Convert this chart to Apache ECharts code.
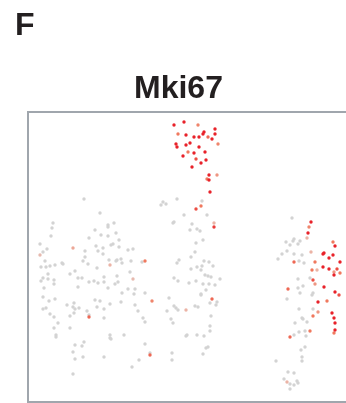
<!DOCTYPE html>
<html><head><meta charset="utf-8">
<script src="https://cdn.jsdelivr.net/npm/echarts@6/dist/echarts.min.js"></script>
<style>html,body{margin:0;padding:0;background:#fff;overflow:hidden}#c{width:362px;height:403px}</style>
</head><body><div id="c"></div>
<script>
// Panel label and gene title
var panelLabel = 'F';
var geneName = 'Mki67';
// Expression level legend: 0 = none (grey) ... 3 = high (red)
var exprLevels = [0, 1, 2, 3];
var exprColors = ['#d3d3d3', '#ebb3a5', '#f0795e', '#e8222a'];

// Each point: [dim1, dim2, expression]
var leftCluster = [
[56,203,0],[72,189,0],[25,179,0],[24,174,0],[23,166,0],[12,158,0],[19,153,0],[67,172,0],[80,177,0],[80,175,0],
[86,179,0],[61,164,0],[73,167,0],[80,166,0],[88,169,0],[91,162,0],[85,158,0],[83,157,0],[68,156,0],[91,155,0],
[75,154,0],[45,154,1.2],[100,152,0],[105,153,0],[70,151,0],[75,148,0],[57,151,0],[15,150,0],[12,147,0.8],[17,141,0],
[57,145,0],[55,141,0],[81,142,0],[89,142,0],[93,143,0],[94,139,0],[88,141,0],[69,134,0],[60,138,0],[82,137,1],
[103,141,0],[117,141,2],[114,140,0],[13,135,0],[18,135,0],[22,136,0],[27,137,0],[34,139,0],[35,138,0],[20,128,0],
[42,128,0],[47,131,0],[76,125,0],[89,126,0],[102,130,0],[50,124,0],[54,124,0],[13,121,0],[15,124,0],[20,123,0],
[26,122,0],[26,118,0],[61,120,0],[66,121,0],[70,119,0],[76,120,0],[90,120,0],[87,118,0],[105,123,0.8],[50,115,0],
[80,114,0],[100,113,0],[107,113,0],[16,114,0],[94,109,0],[106,108,0],[117,109,0],[15,105,0],[21,101,0],[27,103,0],
[67,102,0],[72,101,0],[93,100,0],[82,98,0],[124,101,1.8],[39,97,0],[46,99,0],[107,97,0],[69,95,0],[76,93,0],
[15,93,0],[18,94,0],[45,95,0],[47,93,0],[51,94,0],[59,91,0],[110,91,0],[46,89,0],[42,86,0],[22,88,0],
[26,85,0],[61,87,0],[61,85,2.2],[76,84,0],[115,84,0],[117,80,0],[30,79,0],[26,74,0],[42,74,0],[96,67,0],
[82,67,0],[82,64,0],[83,63,0],[28,67,0],[28,65,0],[56,60,0],[54,56,0],[47,57,0],[117,58,0],[45,50,0],
[122,49,0],[122,47,2.2],[47,43,0],[55,45,0],[76,45,0],[111,42,0],[104,35,0],[45,28,0]
];

var middleCluster = [
[133,197,0],[135,200,0],[138,198,0],[149,203,0],[156,187,0],[145,179,0],[146,180,0],[164,178,0],[169,173,0],[162,172,0],
[168,159,0],[174,201,0],[179,187,0],[172,171,0],[175,162,0],[167,150,0],[163,145,0],[176,141,0],[181,140,0],[174,136,0],
[169,135,0],[185,136,0],[163,133,0],[173,132,0],[177,127,0],[180,126,0],[183,125,0],[192,123,0],[168,121,0],[161,119,0],
[175,118,0],[181,118,0],[187,117,0],[178,112,0],[173,108,0],[173,107,0],[189,100,0],[188,97,0],[182,99,0],[167,96,0],
[170,95,0],[183,86,0],[182,76,0],[182,71,0],[159,67,0],[158,66,0],[169,67,0],[176,66,0],[178,54,0],[180,55,0],
[175,48,0],[151,142,0],[149,139,0],[146,124,0],[150,121,0],[141,104,0],[146,96,0],[139,91,0],[148,94,0],[150,92,0],
[143,83,0],[145,79,0],[144,49,0],[144,42,0],[158,92,1],[186,179,1],[168,193,2.5],[173,196,2],[186,175,2.7],[184,103,2.2],
[146,277,3],[156,280,3],[170,277,1.8],[150,268,2],[158,267,3],[166,265,3],[171,265,3],[176,270,3],[175,268,3],[187,273,3],
[187,268,3],[180,265,2.2],[184,263,3],[190,258,1.8],[148,258,3],[149,255,3],[158,257,3],[162,259,3],[171,255,3],[160,250,2],
[166,249,3],[177,250,3],[155,246,3],[168,243,2.5],[178,242,3],[173,239,3],[164,235,3],[181,227,3],[189,227,1.5],[179,223,2],
[181,222,3],[182,210,3]
];

var rightCluster = [
[264,184,0],[258,160,0],[262,157,0],[265,161,0],[266,163,0],[270,158,0],[272,161,0],[259,151,0],[254,148,0],[250,143,0],
[266,148,0],[274,147,0],[271,141,0],[276,139,0],[270,123,0],[282,124,0],[270,114,0],[275,116,0],[285,109,0],[284,107,0],
[272,109,0],[259,103,0],[285,93,0],[271,93,0],[274,84,0],[275,83,0],[279,80,0],[267,79,0],[277,71,0],[271,70,0],
[278,66,0],[266,67,0],[277,55,0],[273,52,0],[274,45,0],[274,41,0],[248,41,0],[260,30,0],[266,29,0],[256,23,0],
[269,21,0],[262,18,0],[270,19,0],[266,17,0],[262,13,0],[259,20,1],[279,164,1],[283,150,1],[289,132,1],[281,175,1.8],
[283,180,3],[280,169,3],[305,160,2],[307,156,3],[296,149,3],[295,148,3],[305,147,3],[301,144,3],[312,140,3],[287,140,2],
[266,140,2.2],[295,135,3],[301,133,3],[309,133,2.5],[306,130,1.5],[312,129,2],[306,127,3],[284,132,2],[285,122,2.5],[287,118,1.5],
[260,113,2.2],[296,115,3],[307,110,3],[311,107,2.5],[290,100,3],[299,101,2],[290,90,1.5],[285,86,2],[304,89,3],[306,84,3],
[307,79,3],[307,72,3],[306,69,2],[282,71,2],[262,65,2.2]
];

var allPoints = leftCluster.concat(middleCluster, rightCluster)
  .slice().sort(function(a, b){ return a[2] - b[2]; });

var chart = echarts.init(document.getElementById('c'), null, {renderer: 'canvas'});
var font = '"Liberation Sans", Arial, Helvetica, sans-serif';
chart.setOption({
  animation: false,
  backgroundColor: '#ffffff',
  title: [
    {text: panelLabel, left: 10, top: 5,
     textStyle: {fontFamily: font, fontSize: 32, fontWeight: 'bold', color: '#231f20'}},
    {text: geneName, left: 129, top: 68,
     textStyle: {fontFamily: font, fontSize: 32, fontWeight: 'bold', color: '#231f20'}}
  ],
  grid: {left: 28, top: 112, width: 330, height: 290, show: true,
         borderColor: '#a0a6ad', borderWidth: 2, backgroundColor: 'transparent'},
  xAxis: {type: 'value', min: 0, max: 330, show: true,
          axisLine: {show: false}, axisTick: {show: false}, axisLabel: {show: false}, splitLine: {show: false}},
  yAxis: {type: 'value', min: 0, max: 290, show: true,
          axisLine: {show: false}, axisTick: {show: false}, axisLabel: {show: false}, splitLine: {show: false}},
  visualMap: {show: false, type: 'continuous', dimension: 2,
              min: exprLevels[0], max: exprLevels[exprLevels.length - 1],
              inRange: {color: exprColors}},
  series: [{
    type: 'scatter', data: allPoints, symbolSize: 3.4,
    itemStyle: {opacity: 1}, silent: true
  }]
});
</script></body></html>
